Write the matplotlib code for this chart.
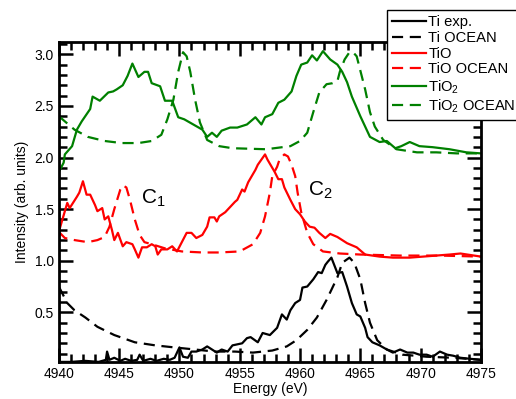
import numpy as np
import matplotlib
matplotlib.use("Agg")
import matplotlib.pyplot as plt
from matplotlib.ticker import MultipleLocator

plt.rcParams['font.family'] = ['Liberation Sans', 'DejaVu Sans']
plt.rcParams['mathtext.fontset'] = 'custom'
plt.rcParams['mathtext.rm'] = 'Liberation Sans'
plt.rcParams['mathtext.default'] = 'regular'

# --- Ti exp. ---
ti_x = [4940.0, 4941.0, 4942.2, 4943.3, 4943.9, 4944.0, 4944.2, 4944.6, 4945.1, 4945.5,
        4946.0, 4946.5, 4946.7, 4947.0, 4947.6, 4948.1, 4948.7, 4949.2, 4949.6, 4950.0,
        4950.3, 4950.7, 4951.0, 4951.4, 4951.9, 4952.3, 4952.7, 4953.1, 4953.5, 4954.0,
        4954.4, 4955.2, 4955.6, 4955.9, 4956.5, 4956.9, 4957.5, 4958.1, 4958.5, 4958.9,
        4959.2, 4959.6, 4960.0, 4960.2, 4960.6, 4961.1, 4961.5, 4961.8, 4962.1, 4962.3,
        4962.6, 4962.9, 4963.1, 4963.5, 4963.9, 4964.3, 4964.7, 4965.0, 4965.4, 4965.6,
        4966.0, 4966.6, 4967.2, 4967.7, 4968.3, 4968.9, 4969.4, 4969.9, 4970.5, 4971.0,
        4971.6, 4972.2, 4972.7, 4973.3, 4974.1, 4975.0]
ti_y = [0.02, 0.02, 0.03, 0.02, 0.04, 0.12, 0.04, 0.06, 0.03, 0.05,
        0.03, 0.04, 0.09, 0.03, 0.05, 0.03, 0.05, 0.04, 0.06, 0.16,
        0.07, 0.06, 0.12, 0.12, 0.14, 0.17, 0.14, 0.11, 0.14, 0.12,
        0.18, 0.20, 0.25, 0.26, 0.21, 0.30, 0.28, 0.35, 0.48, 0.43,
        0.52, 0.59, 0.62, 0.74, 0.75, 0.82, 0.89, 0.88, 0.96, 0.99,
        1.03, 0.94, 0.88, 0.89, 0.75, 0.59, 0.48, 0.46, 0.35, 0.26,
        0.21, 0.18, 0.14, 0.11, 0.14, 0.11, 0.11, 0.09, 0.09, 0.07,
        0.12, 0.09, 0.08, 0.06, 0.05, 0.04]

# --- Ti OCEAN ---
ti_oc_x = [4940.0, 4940.7, 4941.3, 4942.2, 4943.2, 4944.6, 4946.3, 4948.0, 4949.6, 4951.3,
           4952.9, 4954.6, 4956.1, 4957.7, 4958.9, 4959.7, 4960.6, 4961.4, 4962.2, 4963.1,
           4963.5, 4964.1, 4964.5, 4965.0, 4965.4, 4965.8, 4966.4, 4967.2, 4968.5, 4970.5,
           4972.7, 4975.0]
ti_oc_y = [0.75, 0.59, 0.52, 0.45, 0.36, 0.28, 0.21, 0.18, 0.16, 0.14,
           0.12, 0.12, 0.11, 0.13, 0.17, 0.23, 0.33, 0.45, 0.62, 0.84,
           0.98, 1.03, 0.98, 0.82, 0.59, 0.40, 0.23, 0.14, 0.09, 0.07,
           0.06, 0.04]

# --- TiO exp. ---
tio_x = [4940.0, 4940.3, 4940.7, 4940.9, 4941.5, 4941.7, 4942.0, 4942.3, 4942.6, 4943.0,
         4943.2, 4943.6, 4943.8, 4944.1, 4944.4, 4944.6, 4944.9, 4945.3, 4945.6, 4946.1,
         4946.3, 4946.6, 4946.9, 4947.3, 4947.7, 4948.0, 4948.2, 4948.5, 4949.0, 4949.4,
         4949.8, 4950.2, 4950.6, 4951.0, 4951.4, 4951.9, 4952.3, 4952.5, 4952.9, 4953.1,
         4953.3, 4953.8, 4954.2, 4954.6, 4954.8, 4955.2, 4955.4, 4955.7, 4956.0, 4956.3,
         4956.5, 4956.8, 4957.1, 4957.3, 4957.7, 4957.9, 4958.2, 4958.5, 4958.7, 4959.2,
         4959.6, 4960.0, 4960.4, 4960.8, 4961.2, 4961.6, 4962.1, 4962.5, 4963.1, 4963.9,
         4964.7, 4965.4, 4966.6, 4967.7, 4969.1, 4970.2, 4971.3, 4972.4, 4973.3, 4975.0]
tio_y = [1.28, 1.40, 1.56, 1.51, 1.62, 1.66, 1.77, 1.64, 1.64, 1.54,
         1.48, 1.51, 1.40, 1.43, 1.30, 1.20, 1.27, 1.14, 1.18, 1.16,
         1.11, 1.03, 1.13, 1.13, 1.16, 1.14, 1.06, 1.11, 1.11, 1.14,
         1.09, 1.18, 1.27, 1.27, 1.22, 1.25, 1.33, 1.42, 1.42, 1.38,
         1.43, 1.47, 1.52, 1.57, 1.59, 1.69, 1.67, 1.76, 1.82, 1.88,
         1.93, 1.98, 2.03, 1.98, 1.90, 1.86, 1.79, 1.79, 1.71, 1.59,
         1.50, 1.45, 1.38, 1.33, 1.32, 1.27, 1.22, 1.26, 1.23, 1.17,
         1.13, 1.06, 1.04, 1.03, 1.03, 1.04, 1.05, 1.06, 1.07, 1.04]

# --- TiO OCEAN ---
tio_oc_x = [4940.0, 4940.5, 4941.3, 4942.4, 4943.2, 4943.8, 4944.2, 4944.6, 4945.1, 4945.3,
            4945.6, 4945.9, 4946.3, 4946.7, 4947.1, 4947.7, 4948.8, 4950.2, 4951.9, 4953.3,
            4955.0, 4956.1, 4956.7, 4957.1, 4957.5, 4957.7, 4958.1, 4958.3, 4958.7, 4959.0,
            4959.3, 4959.6, 4959.8, 4960.1, 4960.6, 4961.1, 4961.9, 4963.3, 4965.0, 4968.3,
            4971.6, 4975.0]
tio_oc_y = [1.28, 1.22, 1.20, 1.18, 1.20, 1.23, 1.33, 1.50, 1.69, 1.73,
            1.71, 1.59, 1.40, 1.25, 1.18, 1.16, 1.12, 1.09, 1.08, 1.08,
            1.09, 1.16, 1.27, 1.43, 1.66, 1.82, 1.91, 1.98, 2.03, 2.01,
            1.93, 1.82, 1.66, 1.47, 1.27, 1.16, 1.09, 1.07, 1.06, 1.05,
            1.05, 1.04]

# --- TiO2 exp. ---
tio2_x = [4940.0, 4940.4, 4940.5, 4941.1, 4941.5, 4941.9, 4942.6, 4942.8, 4943.4, 4944.1,
          4944.5, 4944.8, 4945.3, 4945.7, 4946.1, 4946.6, 4947.1, 4947.4, 4947.7, 4948.4,
          4948.8, 4949.4, 4949.9, 4950.4, 4951.3, 4951.9, 4952.3, 4952.7, 4953.1, 4953.5,
          4954.2, 4954.8, 4955.6, 4956.3, 4956.8, 4957.1, 4957.7, 4958.2, 4958.7, 4959.3,
          4959.7, 4960.1, 4960.6, 4961.0, 4961.4, 4961.9, 4962.5, 4963.1, 4963.5, 4963.9,
          4964.3, 4965.0, 4965.8, 4966.6, 4967.2, 4967.9, 4968.4, 4969.1, 4969.9, 4971.0,
          4972.4, 4973.8, 4975.0]
tio2_y = [1.86, 1.95, 2.03, 2.11, 2.27, 2.35, 2.47, 2.59, 2.55, 2.63,
          2.64, 2.66, 2.70, 2.79, 2.91, 2.78, 2.83, 2.83, 2.72, 2.69,
          2.55, 2.55, 2.39, 2.37, 2.31, 2.27, 2.20, 2.24, 2.20, 2.26,
          2.29, 2.29, 2.32, 2.39, 2.32, 2.39, 2.42, 2.53, 2.56, 2.64,
          2.79, 2.90, 2.92, 2.99, 2.94, 3.03, 2.95, 2.90, 2.83, 2.73,
          2.59, 2.40, 2.20, 2.15, 2.16, 2.09, 2.11, 2.15, 2.11, 2.10,
          2.08, 2.05, 2.04]

# --- TiO2 OCEAN ---
tio2_oc_x = [4940.0, 4940.5, 4941.3, 4942.4, 4943.8, 4945.2, 4946.6, 4947.7, 4948.5, 4949.0,
             4949.5, 4949.9, 4950.3, 4950.6, 4950.9, 4951.3, 4951.7, 4952.3, 4953.3, 4954.4,
             4957.2, 4959.2, 4960.0, 4960.6, 4961.1, 4961.6, 4962.2, 4962.7, 4963.1, 4963.3,
             4963.7, 4964.1, 4964.4, 4964.7, 4965.4, 4965.8, 4966.2, 4966.9, 4968.0, 4969.7,
             4971.3, 4973.0, 4975.0]
tio2_oc_y = [2.40, 2.35, 2.27, 2.20, 2.16, 2.14, 2.14, 2.16, 2.22, 2.37,
             2.56, 2.83, 3.02, 2.98, 2.83, 2.56, 2.34, 2.17, 2.11, 2.09,
             2.08, 2.11, 2.16, 2.24, 2.44, 2.63, 2.71, 2.72, 2.74, 2.83,
             2.95, 3.02, 3.02, 2.98, 2.66, 2.44, 2.30, 2.17, 2.08, 2.05,
             2.05, 2.04, 2.04]

# --- Plotting ---
fig = plt.figure(figsize=(5.16, 3.99), dpi=100)
ax = fig.add_axes([0.114, 0.093, 0.818, 0.802])

dash = (0, (5, 3))
lw = 1.6
ax.plot(ti_x, ti_y, color='black', lw=lw, label='Ti exp.')
ax.plot(ti_oc_x, ti_oc_y, color='black', lw=lw, ls=dash, label='Ti OCEAN')
ax.plot(tio_x, tio_y, color='red', lw=lw, label='TiO')
ax.plot(tio_oc_x, tio_oc_y, color='red', lw=lw, ls=dash, label='TiO OCEAN')
ax.plot(tio2_x, tio2_y, color='green', lw=lw, label='TiO$_2$')
ax.plot(tio2_oc_x, tio2_oc_y, color='green', lw=lw, ls=dash, label='TiO$_2$ OCEAN')

ax.text(4946.8, 1.55, 'C$_1$', fontsize=15)
ax.text(4960.7, 1.63, 'C$_2$', fontsize=15)

ax.set_xlim(4940, 4975)
ax.set_ylim(0.02, 3.12)
ax.xaxis.set_major_locator(MultipleLocator(5))
ax.xaxis.set_minor_locator(MultipleLocator(1))
ax.yaxis.set_major_locator(MultipleLocator(0.5))
ax.yaxis.set_minor_locator(MultipleLocator(0.1))
ax.tick_params(which='both', direction='in', top=True, right=True, width=1.8, labelsize=10)
ax.tick_params(which='major', length=10)
ax.tick_params(which='minor', length=6)
for s in ax.spines.values():
    s.set_linewidth(2.0)

ax.set_xlabel('Energy (eV)', fontsize=10, labelpad=1)
ax.set_ylabel('Intensity (arb. units)', fontsize=10, labelpad=4)

leg = ax.legend(loc='upper left', bbox_to_anchor=(0.750, 0.975), bbox_transform=fig.transFigure,
                fontsize=10.6, frameon=True, fancybox=False, edgecolor='black', framealpha=1,
                handlelength=2.3, handletextpad=0.15, borderpad=0.35, labelspacing=0.12,
                borderaxespad=0)
leg.get_frame().set_linewidth(1.0)

fig.savefig('out.png', dpi=100)
